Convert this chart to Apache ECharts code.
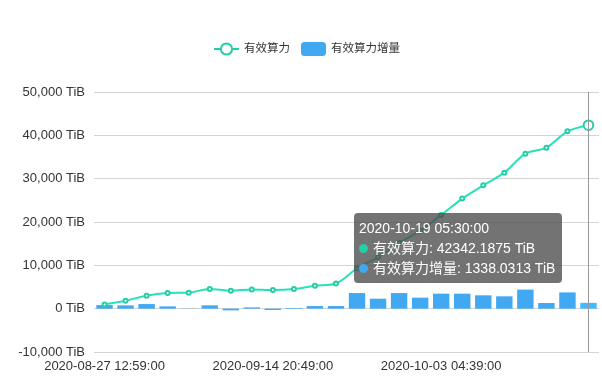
<!DOCTYPE html>
<html>
<head>
<meta charset="utf-8">
<script src="https://cdn.jsdelivr.net/npm/echarts@6/dist/echarts.min.js"></script>
<style>
html,body{margin:0;padding:0;background:#fff;}
#chart{width:602px;height:383px;}
</style>
</head>
<body>
<div id="chart"></div>
<script>
const categories = [
  '2020-08-27 12:59:00','2020-08-29 19:58:00','2020-09-01 02:56:00','2020-09-03 09:55:00',
  '2020-09-05 16:54:00','2020-09-07 23:53:00','2020-09-10 06:51:00','2020-09-12 13:50:00',
  '2020-09-14 20:49:00','2020-09-17 03:48:00','2020-09-19 10:47:00','2020-09-21 17:46:00',
  '2020-09-24 00:44:00','2020-09-26 07:43:00','2020-09-28 14:42:00','2020-09-30 21:41:00',
  '2020-10-03 04:39:00','2020-10-05 11:38:00','2020-10-07 18:37:00','2020-10-10 01:36:00',
  '2020-10-12 08:35:00','2020-10-14 15:34:00','2020-10-16 22:32:00','2020-10-19 05:30:00'
];
const powerName = '有效算力';
const deltaName = '有效算力增量';
const powerValues = [990, 1850, 3000, 3600, 3700, 4550, 4150, 4450, 4300, 4520, 5300, 5800,
  9300, 11900, 15200, 18000, 21600, 25400, 28460, 31390, 35770, 37160, 40920, 42342.1875];
const deltaValues = [830, 760, 1060, 530, 50, 770, -390, 300, -300, 150, 600, 600,
  3600, 2300, 3600, 2540, 3460, 3460, 3080, 2850, 4400, 1300, 3750, 1338.0313];
const yTicks = { min: -10000, max: 50000, interval: 10000 };
const unit = 'TiB';

const lineColor = '#25cda8';
const barColor = '#41a8f2';
const fontFamily = 'Helvetica, Arial, "Liberation Sans", "Noto Sans CJK SC", sans-serif';

const chart = echarts.init(document.getElementById('chart'), null, {renderer: 'canvas'});
const option = {
  animation: false,
  textStyle: { fontFamily: fontFamily },
  legend: {
    top: 37,
    left: 208,
    itemWidth: 25,
    itemHeight: 14,
    itemGap: 11,
    textStyle: { fontSize: 11.5, color: '#333', fontFamily: fontFamily },
    data: [powerName, deltaName]
  },
  grid: { left: 94, right: 3, top: 92, bottom: 31 },
  tooltip: {
    trigger: 'axis',
    alwaysShowContent: true,
    transitionDuration: 0,
    position: [354, 213],
    backgroundColor: 'rgba(75,75,75,0.78)',
    borderWidth: 0,
    padding: [5, 7, 5, 5],
    textStyle: { color: '#fff', fontSize: 14, fontFamily: fontFamily },
    extraCssText: 'box-shadow:none;border-radius:4px;line-height:20px;',
    axisPointer: { type: 'line', lineStyle: { color: '#999', width: 1, type: 'solid' } },
    formatter: function (params) {
      let s = params[0].axisValue;
      params.forEach(function (p) {
        s += '<br/><span style="display:inline-block;margin-right:5px;border-radius:50%;width:9px;height:9px;background-color:' +
          p.color + ';"></span>' + p.seriesName + ': ' + p.value + ' ' + unit;
      });
      return s;
    }
  },
  xAxis: {
    type: 'category',
    data: categories,
    boundaryGap: true,
    axisLine: { show: false, onZero: false },
    axisTick: { show: false },
    axisLabel: { interval: 7, color: '#333', fontSize: 13, margin: 8 },
    splitLine: { show: false }
  },
  yAxis: {
    type: 'value',
    min: yTicks.min,
    max: yTicks.max,
    interval: yTicks.interval,
    axisLine: { show: false },
    axisTick: { show: false },
    axisLabel: {
      color: '#333', fontSize: 13, margin: 9,
      formatter: function (v) { return v.toLocaleString('en-US') + ' ' + unit; }
    },
    splitLine: { lineStyle: { color: '#d4d4d4', width: 1 } }
  },
  series: [
    {
      name: powerName,
      type: 'line',
      data: powerValues,
      smooth: 0.3,
      symbol: 'emptyCircle',
      symbolSize: 4,
      lineStyle: { color: lineColor, width: 2 },
      itemStyle: { color: lineColor, borderWidth: 1 },
      emphasis: { scale: 2.4 },
      z: 3
    },
    {
      name: deltaName,
      type: 'bar',
      data: deltaValues,
      barCategoryGap: '22%',
      itemStyle: { color: barColor },
      z: 2
    }
  ]
};
chart.setOption(option);
chart.dispatchAction({ type: 'showTip', seriesIndex: 0, dataIndex: 23 });
</script>
</body>
</html>
